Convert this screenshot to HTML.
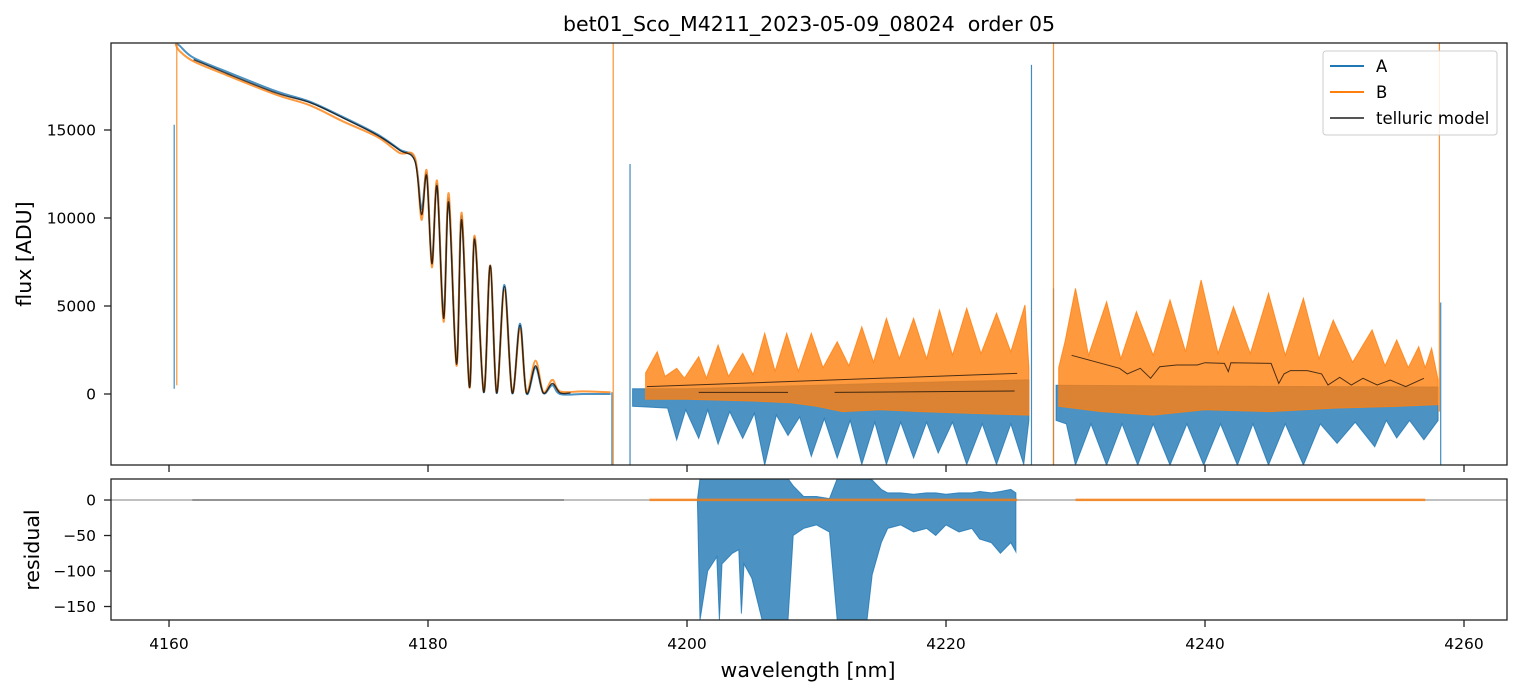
<!DOCTYPE html>
<html><head><meta charset="utf-8"><style>
body{margin:0;background:#fff;}
svg{display:block;font-family:"DejaVu Sans","Liberation Sans",sans-serif;}
</style></head><body>
<svg id="chart" width="1520" height="696" viewBox="0 0 1520 696" xmlns="http://www.w3.org/2000/svg">
<defs>
<clipPath id="clipTop"><rect x="111" y="43" width="1396" height="422"/></clipPath>
<clipPath id="clipBot"><rect x="111" y="479" width="1396" height="141"/></clipPath>
</defs>
<rect width="1520" height="696" fill="#fff"/>
<text x="809" y="31" text-anchor="middle" font-size="20.5" fill="#000" style="white-space:pre">bet01_Sco_M4211_2023-05-09_08024  order 05</text>
<g id="topg" clip-path="url(#clipTop)"></g>
<g id="botg" clip-path="url(#clipBot)"></g>
<g id="axesg"></g>
<text transform="translate(31,254) rotate(-90)" text-anchor="middle" font-size="20.5">flux [ADU]</text>
<text transform="translate(39,550) rotate(-90)" text-anchor="middle" font-size="20.5">residual</text>
<text x="808" y="677" text-anchor="middle" font-size="20.5">wavelength [nm]</text>
<g>
<rect x="1323" y="51" width="174" height="84" rx="3" fill="#fff" fill-opacity="0.85" stroke="#ccc" stroke-width="1"/>
<g><line x1="1330" y1="66" x2="1364" y2="66" stroke="#1f77b4" stroke-width="2"/><text x="1376" y="72" font-size="16.5">A</text></g>
<g><line x1="1330" y1="92" x2="1364" y2="92" stroke="#ff7f0e" stroke-width="2"/><text x="1376" y="98" font-size="16.5">B</text></g>
<g><line x1="1330" y1="118" x2="1364" y2="118" stroke="#555" stroke-width="2"/><text x="1376" y="124" font-size="16.5">telluric model</text></g>
</g>
</svg>
<script>
// ---- data ----
const xTicks = [4160, 4180, 4200, 4220, 4240, 4260];
const yTicksTop = [0, 5000, 10000, 15000];
const yTicksBot = [0, -50, -100, -150];

const smoothWl = [4160.5,4160.8,4161.9,4164.5,4168.3,4170.9,4173.4,4176.1,4177.8,4179.0,4179.5,4179.9,4180.3,4180.7,4181.2,4181.6,4182.2,4182.6,4183.2,4183.6,4184.3,4184.8,4185.3,4185.9,4186.5,4187.1,4187.6,4188.3,4188.9,4189.6,4190.2,4192.0,4194.1];
const smoothA = [19900,19800,19100,18300,17200,16600,15750,14750,13900,13300,10500,12500,7500,11900,4500,11100,1800,10100,400,8900,100,7300,50,6200,50,4000,50,1500,50,500,0,0,0];
const smoothB = [19900,19500,18900,18100,17000,16400,15500,14600,13700,13400,9900,12700,7200,12100,4100,11400,1600,10300,350,9000,150,7300,120,5900,100,3700,100,1900,100,800,150,150,100];
const tellSmoothWl = [4161.9,4164.5,4168.3,4170.9,4173.4,4176.1,4177.8,4179.0,4179.5,4179.9,4180.3,4180.7,4181.2,4181.6,4182.2,4182.6,4183.2,4183.6,4184.3,4184.8,4185.3,4185.9,4186.5,4187.1,4187.6,4188.3,4188.9,4189.6,4190.2,4191.0];
const tellSmooth = [19000,18200,17100,16550,15700,14700,13850,13200,10200,12400,7400,11800,4300,10900,1700,9900,380,8800,100,7300,60,6100,60,3900,60,1600,60,600,60,60];

const bHiWl = [4196.8,4197.7,4198.3,4199.2,4199.8,4200.9,4201.5,4202.4,4203.2,4204.3,4205.1,4206.0,4206.8,4207.7,4208.6,4209.6,4210.5,4211.6,4212.5,4213.5,4214.4,4215.4,4216.4,4217.5,4218.5,4219.5,4220.5,4221.6,4222.7,4223.9,4225.0,4226.1,4226.4];
const bHi = [1200,2400,1000,1460,900,2120,900,2780,1000,2310,1100,3450,1300,3450,1300,3450,1500,2970,1600,3820,1800,4300,2000,4300,2000,4770,2200,4870,2300,4590,2400,5060,1500];
const bLoWl = [4196.8,4200,4205,4208,4210,4212,4215,4218,4222,4226.4];
const bLo = [-300,-300,-400,-500,-700,-1000,-900,-1000,-1100,-1200];
const bHiWl2 = [4228.7,4229.2,4230.0,4231.0,4232.4,4233.5,4234.7,4236.0,4237.3,4238.5,4239.7,4241.0,4242.2,4243.5,4244.9,4246.2,4247.6,4248.8,4249.9,4251.4,4252.9,4253.9,4254.8,4255.7,4256.5,4257.0,4257.5,4258.0];
const bHi2 = [1500,3000,6000,2200,5240,2000,4680,2200,5340,2400,6480,2300,4960,2300,5720,2200,5440,2000,4200,1800,3640,1600,3070,1500,2690,1500,2600,800];
const bLoWl2 = [4228.7,4232,4236,4240,4245,4250,4255,4258.0];
const bLo2 = [-700,-1000,-1200,-900,-1000,-800,-700,-600];

const aHiWl = [4195.8,4200,4205,4210,4215,4220,4226.4];
const aHi = [300,300,400,500,600,700,800];
const aLoWl = [4195.8,4198.5,4199.2,4199.9,4200.9,4201.6,4202.4,4203.3,4204.3,4205.2,4206.0,4206.9,4207.8,4208.7,4209.6,4210.6,4211.6,4212.6,4213.5,4214.5,4215.4,4216.5,4217.5,4218.5,4219.4,4220.5,4221.6,4222.8,4223.9,4225.0,4226.0,4226.4];
const aLo = [-700,-800,-2600,-900,-2520,-900,-2840,-1000,-2520,-1100,-4034,-1200,-2360,-1300,-3540,-1400,-3630,-1500,-4000,-1600,-4000,-1600,-3630,-1600,-3350,-1600,-4000,-1700,-4000,-1700,-4000,-1500];
const aHiWl2 = [4228.5,4240,4258.0];
const aHi2 = [500,450,400];
const aLoWl2 = [4228.5,4229.3,4230.0,4231.2,4232.4,4233.6,4234.8,4236.0,4237.3,4238.6,4239.9,4241.2,4242.5,4243.7,4244.9,4246.2,4247.6,4248.9,4250.2,4251.6,4253.1,4254.0,4254.8,4255.8,4256.9,4258.0];
const aLo2 = [-1500,-1700,-4034,-1700,-4034,-1700,-4034,-1700,-4034,-1700,-4034,-1700,-4034,-1700,-4034,-1700,-4034,-1700,-2800,-1600,-3000,-1500,-2500,-1500,-2600,-1500];

const tellSegWl = [[4196.9,4225.5],[4200.9,4207.8],[4211.4,4225.3]];
const tellSegVal = [[420,1170],[90,90],[90,170]];
const tellRightWl = [4229.7,4233.4,4234.0,4235.0,4235.8,4236.5,4237.8,4239.4,4240.0,4241.5,4241.8,4242.0,4245.1,4245.7,4246.1,4246.6,4247.9,4249.0,4249.5,4250.4,4251.3,4252.2,4253.3,4254.3,4255.5,4256.9];
const tellRight = [2200,1460,1140,1460,890,1550,1650,1650,1780,1740,1270,1780,1740,600,1140,1330,1330,1140,510,950,510,890,510,790,420,890];

const spikeSeries = ['A','A','A','A','A','A','B','B','B','B'];
const spikeWl = [4160.4,4194.2,4195.6,4226.6,4228.3,4258.2,4160.6,4194.3,4228.3,4258.1];
const spikeLo = [300,-4034,-4034,-4034,-4034,-4034,500,-4034,-4034,-1000];
const spikeHi = [15300,100,13070,18700,6000,5200,19943,19943,19943,19943];

const resAWl = [4200.8,4201.0,4201.6,4202.3,4202.5,4202.7,4203.5,4204.0,4204.2,4204.4,4205.0,4205.8,4206.5,4207.2,4207.8,4208.2,4209,4210,4211,4211.6,4212,4212.5,4213,4213.5,4213.9,4214.3,4215,4215.5,4216.5,4217.5,4218.5,4219.2,4220,4221,4222,4222.6,4223.5,4224.2,4225,4225.4];
const resAHi = [0,30,30,30,30,30,30,30,30,30,30,30,30,30,30,20,5,5,2,30,30,30,30,30,30,28,15,10,10,8,10,10,8,10,10,12,10,12,15,10];
const resALo = [0,-169,-100,-80,-169,-90,-75,-70,-160,-90,-110,-169,-169,-169,-169,-50,-40,-35,-45,-169,-169,-169,-169,-169,-169,-105,-60,-40,-35,-45,-40,-50,-35,-45,-40,-55,-60,-75,-60,-73];
const resBWl = [[4197.1,4225.5],[4230.0,4257.0]];
const resBHi = [[2,2],[2,2]];
const resBLo = [[-1.5,-1.5],[-1.5,-1.5]];
const resGrayWl = [4161.8,4190.5];

// ---- scales ----
const X0 = 111, X1 = 1507, XMIN = 4155.52, XMAX = 4263.32;
const sx = w => X0 + (w - XMIN) / (XMAX - XMIN) * (X1 - X0);
const TY0 = 43, TY1 = 465, TMIN = -4034, TMAX = 19943;
const sy = v => TY1 - (v - TMIN) / (TMAX - TMIN) * (TY1 - TY0);
const BY0 = 479, BY1 = 620, BMIN = -169, BMAX = 29.6;
const sb = v => BY1 - (v - BMIN) / (BMAX - BMIN) * (BY1 - BY0);

const NS = 'http://www.w3.org/2000/svg';
function mk(tag, attrs, parent) {
  const e = document.createElementNS(NS, tag);
  for (const k in attrs) e.setAttribute(k, attrs[k]);
  parent.appendChild(e);
  return e;
}
const topG = document.getElementById('topg');
const botG = document.getElementById('botg');
const axesG = document.getElementById('axesg');
const CA = '#1f77b4', CB = '#ff7f0e';

function linePts(wl, v, f) { return wl.map((w, i) => sx(w).toFixed(1) + ',' + f(v[i]).toFixed(1)).join(' '); }
function smoothPath(wl, v, f) {
  const p = wl.map((w, i) => [sx(w), f(v[i])]);
  let d = 'M' + p[0][0].toFixed(1) + ',' + p[0][1].toFixed(1);
  for (let i = 0; i < p.length - 1; i++) {
    const p0 = p[Math.max(0, i - 1)], p1 = p[i], p2 = p[i + 1], p3 = p[Math.min(p.length - 1, i + 2)];
    const c1 = [p1[0] + (p2[0] - p0[0]) / 6, p1[1] + (p2[1] - p0[1]) / 6];
    const c2 = [p2[0] - (p3[0] - p1[0]) / 6, p2[1] - (p3[1] - p1[1]) / 6];
    d += ' C' + c1.map(n => n.toFixed(1)).join(',') + ' ' + c2.map(n => n.toFixed(1)).join(',') + ' ' + p2[0].toFixed(1) + ',' + p2[1].toFixed(1);
  }
  return d;
}
function band(wlHi, hi, wlLo, lo, f) {
  const a = wlHi.map((w, i) => sx(w).toFixed(1) + ',' + f(hi[i]).toFixed(1));
  const b = wlLo.map((w, i) => sx(w).toFixed(1) + ',' + f(lo[i]).toFixed(1)).reverse();
  return a.concat(b).join(' ');
}

let el;
el = mk('polygon', {points: band(aHiWl, aHi, aLoWl, aLo, sy), fill: CA, 'fill-opacity': 0.8, stroke: CA, 'stroke-opacity': 0.8, 'stroke-width': 1}, topG);


el = mk('polygon', {points: band(aHiWl2, aHi2, aLoWl2, aLo2, sy), fill: CA, 'fill-opacity': 0.8, stroke: CA, 'stroke-opacity': 0.8, 'stroke-width': 1}, topG);


el = mk('path', {d: smoothPath(smoothWl, smoothA, sy), fill: 'none', stroke: CA, 'stroke-opacity': 0.8, 'stroke-width': 2}, topG);


spikeWl.forEach((w, i) => {
  if (spikeSeries[i] !== 'A') return;
  const s = mk('line', {x1: sx(w), x2: sx(w), y1: sy(spikeLo[i]), y2: sy(spikeHi[i]), stroke: CA, 'stroke-opacity': 0.85, 'stroke-width': 1.2}, topG);
  
  
});
el = mk('polygon', {points: band(bHiWl, bHi, bLoWl, bLo, sy), fill: CB, 'fill-opacity': 0.8, stroke: CB, 'stroke-opacity': 0.8, 'stroke-width': 1}, topG);


el = mk('polygon', {points: band(bHiWl2, bHi2, bLoWl2, bLo2, sy), fill: CB, 'fill-opacity': 0.8, stroke: CB, 'stroke-opacity': 0.8, 'stroke-width': 1}, topG);


el = mk('path', {d: smoothPath(smoothWl, smoothB, sy), fill: 'none', stroke: CB, 'stroke-opacity': 0.8, 'stroke-width': 2}, topG);


spikeWl.forEach((w, i) => {
  if (spikeSeries[i] !== 'B') return;
  const s = mk('line', {x1: sx(w), x2: sx(w), y1: sy(spikeLo[i]), y2: sy(spikeHi[i]), stroke: CB, 'stroke-opacity': 0.85, 'stroke-width': 1.2}, topG);
  
  
});
el = mk('path', {d: smoothPath(tellSmoothWl, tellSmooth, sy), fill: 'none', stroke: '#000', 'stroke-opacity': 0.75, 'stroke-width': 1.4}, topG);


tellSegWl.forEach((seg, i) => {
  const s = mk('polyline', {points: linePts(seg, tellSegVal[i], sy), fill: 'none', stroke: '#000', 'stroke-opacity': 0.7, 'stroke-width': 1}, topG);
  
  
});
el = mk('polyline', {points: linePts(tellRightWl, tellRight, sy), fill: 'none', stroke: '#000', 'stroke-opacity': 0.7, 'stroke-width': 1}, topG);



el = mk('line', {x1: X0, x2: X1, y1: sb(0), y2: sb(0), stroke: '#808080', 'stroke-width': 1}, botG);


el = mk('line', {x1: sx(resGrayWl[0]), x2: sx(resGrayWl[1]), y1: sb(0), y2: sb(0), stroke: '#555', 'stroke-width': 1.2}, botG);


el = mk('polygon', {points: band(resAWl, resAHi, resAWl, resALo, sb), fill: CA, 'fill-opacity': 0.8, stroke: CA, 'stroke-opacity': 0.8, 'stroke-width': 1}, botG);


resBWl.forEach((seg, i) => {
  const s = mk('polygon', {points: band(seg, resBHi[i], seg, resBLo[i], sb), fill: CB, 'fill-opacity': 0.8, stroke: 'none'}, botG);
  
  
});

[[TY0, TY1], [BY0, BY1]].forEach(([y0, y1], k) => {
  const r = mk('rect', {x: X0, y: y0, width: X1 - X0, height: y1 - y0, fill: 'none', stroke: '#222', 'stroke-width': 1.3}, axesG);
  
  
  xTicks.forEach(t => {
    const l = mk('line', {x1: sx(t), x2: sx(t), y1: y1, y2: y1 + 7, stroke: '#222', 'stroke-width': 1.3}, axesG);
    
    
    if (k) {
      const tx = mk('text', {x: sx(t), y: y1 + 29, 'text-anchor': 'middle', 'font-size': 15.5}, axesG);
      tx.textContent = t;
      
      
    }
  });
});
yTicksTop.forEach(t => {
  const l = mk('line', {x1: X0 - 7, x2: X0, y1: sy(t), y2: sy(t), stroke: '#222', 'stroke-width': 1.3}, axesG);
  
  
  const tx = mk('text', {x: X0 - 15, y: sy(t) + 5.5, 'text-anchor': 'end', 'font-size': 15.5}, axesG);
  tx.textContent = t;
  
  
});
yTicksBot.forEach(t => {
  const l = mk('line', {x1: X0 - 7, x2: X0, y1: sb(t), y2: sb(t), stroke: '#222', 'stroke-width': 1.3}, axesG);
  
  
  const tx = mk('text', {x: X0 - 15, y: sb(t) + 5.5, 'text-anchor': 'end', 'font-size': 15.5}, axesG);
  tx.textContent = t === 0 ? '0' : '\u2212' + Math.abs(t);
  
  
});
</script>
</body></html>
